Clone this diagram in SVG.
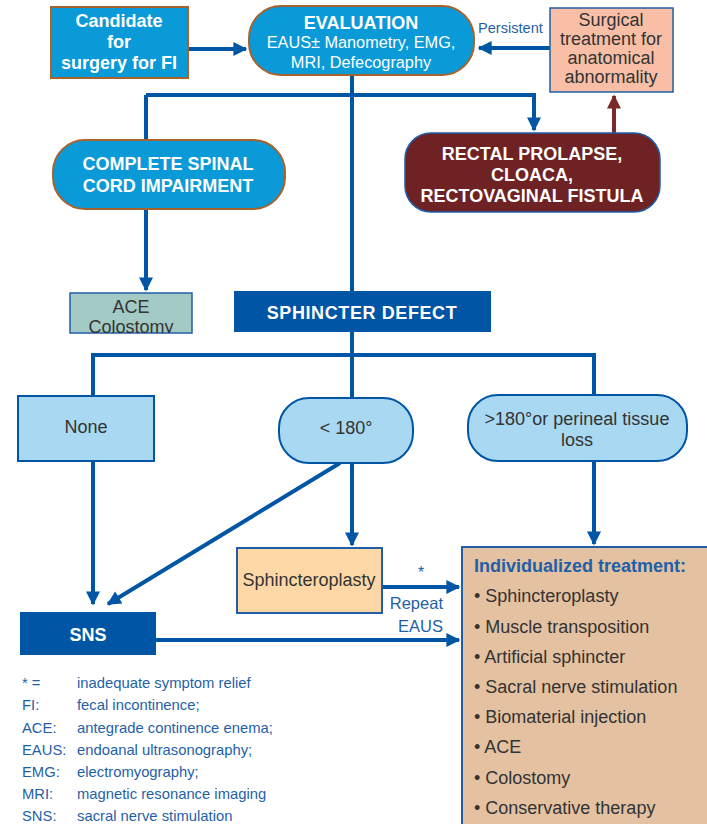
<svg xmlns="http://www.w3.org/2000/svg" width="707" height="824" viewBox="0 0 707 824">
<defs>
<marker id="ab" viewBox="0 0 10 10" refX="9" refY="5" markerWidth="4" markerHeight="3.5" orient="auto" markerUnits="strokeWidth"><path d="M0,0 L10,5 L0,10 z" fill="#0055a5"/></marker>
<marker id="ar" viewBox="0 0 10 10" refX="9" refY="5" markerWidth="4" markerHeight="3.5" orient="auto" markerUnits="strokeWidth"><path d="M0,0 L10,5 L0,10 z" fill="#7a2a2a"/></marker>
<clipPath id="aceclip"><rect x="70" y="293" width="123" height="40"/></clipPath>
</defs>
<style>
text{font-family:"Liberation Sans",Arial,sans-serif;}
.w{fill:#fff;font-weight:bold;font-size:18px;text-anchor:middle;}
.wn{fill:#fff;font-size:16.3px;text-anchor:middle;}
.d{fill:#333;font-size:18px;text-anchor:middle;}
.b{fill:#1f5fa8;}
.lg{fill:#1f5fa8;font-size:14.8px;}
.it{fill:#333;font-size:18px;}
.c{fill:none;stroke:#0055a5;stroke-width:4;}
.cr{fill:none;stroke:#7a2a2a;stroke-width:4;}
.lb{fill:#0a9ad8;stroke:#a8622c;stroke-width:2;}
.pl{fill:#a8d8f2;stroke:#0055a5;stroke-width:2;}
</style>
<rect width="707" height="824" fill="#fff"/>
<g id="connectors">
<path class="c" d="M188,49 H246" marker-end="url(#ab)"/>
<path class="c" d="M550,48 H479" marker-end="url(#ab)"/>
<path class="c" d="M352,75 V291"/>
<path class="c" d="M146,95 H534 V130" marker-end="url(#ab)"/>
<path class="c" d="M146,95 V140"/>
<path class="c" d="M146,209 V290" marker-end="url(#ab)"/>
<path class="cr" d="M614,133 V96" marker-end="url(#ar)"/>
<path class="c" d="M352,332 V398"/>
<path class="c" d="M93,396 V355 H594 V395"/>
<path class="c" d="M93,461 V604" marker-end="url(#ab)"/>
<path class="c" d="M340,463 L108,604" marker-end="url(#ab)"/>
<path class="c" d="M352,463 V545" marker-end="url(#ab)"/>
<path class="c" d="M594,461 V544" marker-end="url(#ab)"/>
<path class="c" d="M382,587 H459" marker-end="url(#ab)"/>
<path class="c" d="M156,640 H459" marker-end="url(#ab)"/>
<text x="478" y="33" class="b" font-size="14.6">Persistent</text>
<text x="421" y="578" class="b" font-size="16" text-anchor="middle">*</text>
<text x="443" y="609" class="b" font-size="16.5" text-anchor="end">Repeat</text>
<text x="443" y="632" class="b" font-size="16.5" text-anchor="end">EAUS</text>
</g>
<g id="candidate">
<rect x="51" y="7" width="137" height="71" fill="#0a9ad8" stroke="#a8622c" stroke-width="2"/>
<text x="119" y="27" class="w">Candidate</text>
<text x="119" y="48" class="w">for</text>
<text x="119" y="69" class="w">surgery for FI</text>
</g>
<g id="evaluation">
<rect x="249" y="6" width="225" height="69" rx="32" class="lb"/>
<text x="361" y="29" class="w">EVALUATION</text>
<text x="361" y="48" class="wn">EAUS± Manometry, EMG,</text>
<text x="361" y="68" class="wn">MRI, Defecography</text>
</g>
<g id="surgical">
<rect x="550" y="8" width="123" height="84" fill="#f8bfa6" stroke="#1f5fa8" stroke-width="1.5"/>
<text x="611" y="26" class="d" font-size="15">Surgical</text>
<text x="611" y="45" class="d" font-size="15">treatment for</text>
<text x="611" y="64" class="d" font-size="15">anatomical</text>
<text x="611" y="83" class="d" font-size="15">abnormality</text>
</g>
<g id="spinal">
<rect x="53" y="140" width="232" height="69" rx="32" class="lb"/>
<text x="168" y="170" class="w">COMPLETE SPINAL</text>
<text x="168" y="192" class="w">CORD IMPAIRMENT</text>
</g>
<g id="rectal">
<rect x="405" y="133" width="255" height="79" rx="26" fill="#6e2224" stroke="#1f5fa8" stroke-width="1.5"/>
<text x="532" y="160" class="w">RECTAL PROLAPSE,</text>
<text x="532" y="181" class="w">CLOACA,</text>
<text x="532" y="202" class="w">RECTOVAGINAL FISTULA</text>
</g>
<g id="ace">
<rect x="70" y="293" width="122" height="40" fill="#a3cac4" stroke="#1f5fa8" stroke-width="1.5"/>
<g clip-path="url(#aceclip)">
<text x="131" y="313" class="d" font-size="16.5">ACE</text>
<text x="131" y="333" class="d" font-size="16.5">Colostomy</text>
</g>
</g>
<g id="sphincter-defect">
<rect x="234" y="291" width="257" height="41" fill="#0055a5"/>
<text x="362" y="319" class="w" font-size="19" letter-spacing="0.6">SPHINCTER DEFECT</text>
</g>
<g id="none">
<rect x="18" y="396" width="136" height="65" class="pl"/>
<text x="86" y="433" class="d">None</text>
</g>
<g id="lt180">
<rect x="279" y="398" width="134" height="65" rx="30" class="pl"/>
<text x="346" y="434" class="d">&lt; 180°</text>
</g>
<g id="gt180">
<rect x="468" y="395" width="219" height="66" rx="30" class="pl"/>
<text x="577" y="425" class="d">&gt;180°or perineal tissue</text>
<text x="577" y="446" class="d">loss</text>
</g>
<g id="sphincteroplasty">
<rect x="237" y="548" width="145" height="65" fill="#fdd8a6" stroke="#1f5fa8" stroke-width="2"/>
<text x="309" y="586" class="d">Sphincteroplasty</text>
</g>
<g id="sns">
<rect x="20" y="612" width="136" height="43" fill="#0055a5"/>
<text x="88" y="641" class="w" font-size="20.5">SNS</text>
</g>
<g id="individualized">
<rect x="462" y="547" width="250" height="290" fill="#e4c1a1" stroke="#1f5fa8" stroke-width="2"/>
<text x="474" y="572" fill="#1f5fa8" font-size="18" font-weight="bold">Individualized treatment:</text>
<text x="474" y="602" class="it">• Sphincteroplasty</text>
<text x="474" y="633" class="it">• Muscle transposition</text>
<text x="474" y="663" class="it">• Artificial sphincter</text>
<text x="474" y="693" class="it">• Sacral nerve stimulation</text>
<text x="474" y="723" class="it">• Biomaterial injection</text>
<text x="474" y="753" class="it">• ACE</text>
<text x="474" y="784" class="it">• Colostomy</text>
<text x="474" y="814" class="it">• Conservative therapy</text>
</g>
<g id="legend">
<text x="22" y="688" class="lg">* =</text><text x="77" y="688" class="lg">inadequate symptom relief</text>
<text x="22" y="710" class="lg">FI:</text><text x="77" y="710" class="lg">fecal incontinence;</text>
<text x="22" y="733" class="lg">ACE:</text><text x="77" y="733" class="lg">antegrade continence enema;</text>
<text x="22" y="755" class="lg">EAUS:</text><text x="77" y="755" class="lg">endoanal ultrasonography;</text>
<text x="22" y="777" class="lg">EMG:</text><text x="77" y="777" class="lg">electromyography;</text>
<text x="22" y="799" class="lg">MRI:</text><text x="77" y="799" class="lg">magnetic resonance imaging</text>
<text x="22" y="821" class="lg">SNS:</text><text x="77" y="821" class="lg">sacral nerve stimulation</text>
</g>
</svg>
